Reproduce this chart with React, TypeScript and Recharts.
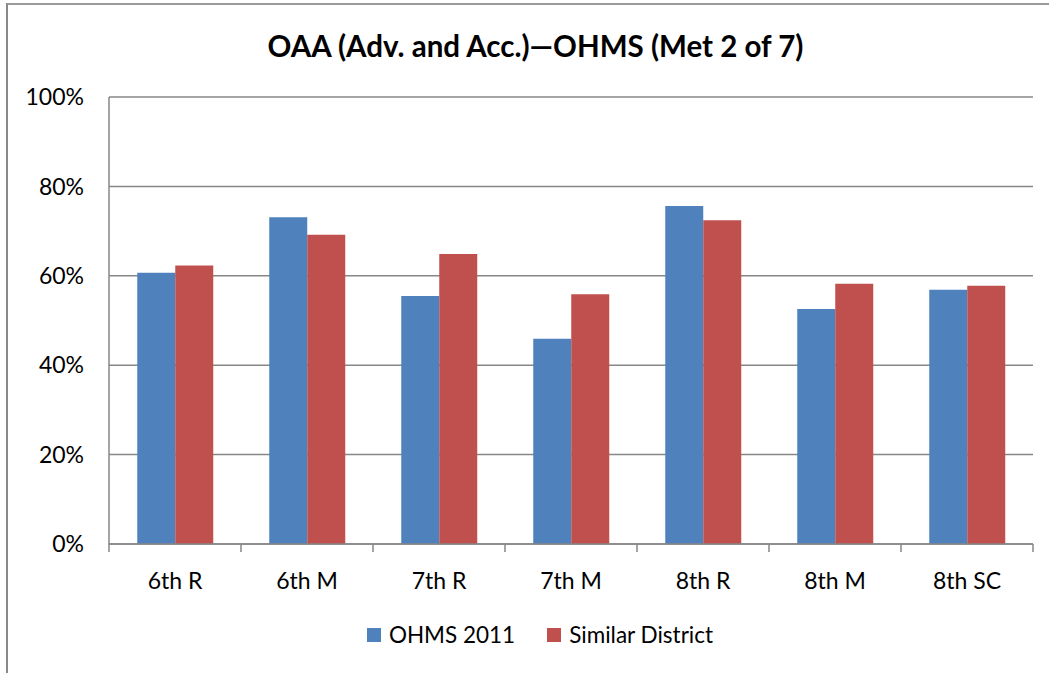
import { BarChart, Bar, XAxis, YAxis, CartesianGrid, Legend } from "recharts";

const categories = ["6th R", "6th M", "7th R", "7th M", "8th R", "8th M", "8th SC"];
const ohms2011 = [60.7, 73.1, 55.5, 45.9, 75.6, 52.6, 56.9];
const similarDistrict = [62.3, 69.2, 64.9, 55.9, 72.4, 58.2, 57.8];
const yTicks = [0, 20, 40, 60, 80, 100];

const data = categories.map((name, i) => ({
  name,
  ohms: ohms2011[i],
  similar: similarDistrict[i],
}));

const FONT = "Lato, 'Open Sans', sans-serif";
const AXIS_GRAY = "#878787";

// category ticks sit on the band edges, labels in the middle
const CategoryTick = (props: any) => {
  const { x, y, payload, index, visibleTicksCount } = props;
  const half = payload?.offset ?? 66;
  const last = index === (visibleTicksCount ?? categories.length) - 1;
  return (
    <g>
      <line x1={x - half} x2={x - half} y1={y} y2={y + 8} stroke={AXIS_GRAY} strokeWidth={1.5} />
      {last && (
        <line x1={x + half} x2={x + half} y1={y} y2={y + 8} stroke={AXIS_GRAY} strokeWidth={1.5} />
      )}
      <text x={x} y={y + 36} textAnchor="middle" dominantBaseline="central" fill="#000" fontSize={23} fontFamily={FONT}>
        {payload.value}
      </text>
    </g>
  );
};

const LegendContent = (props: any) => {
  const items = props.payload || [];
  return (
    <div style={{ display: "flex", justifyContent: "center", gap: 32, fontFamily: FONT, fontSize: 22.5 }}>
      {items.map((item: any) => (
        <div key={item.value} style={{ display: "flex", alignItems: "center" }}>
          <span style={{ width: 14, height: 14, background: item.color, marginRight: 8, display: "inline-block" }} />
          <span style={{ color: "#000" }}>{item.value}</span>
        </div>
      ))}
    </div>
  );
};

export default function App() {
  return (
    <div
      style={{
        position: "fixed",
        top: 0,
        left: 0,
        width: 1049,
        height: 673,
        background: "#fff",
        overflow: "hidden",
        fontFamily: FONT,
      }}
    >
      <div
        style={{
          position: "absolute",
          left: 6,
          top: 3,
          width: 1200,
          height: 800,
          borderTop: "2px solid #9a9a9a",
          borderLeft: "2px solid #888",
        }}
      />
      <div
        style={{
          position: "absolute",
          top: 28,
          left: 0,
          width: 1071,
          textAlign: "center",
          fontWeight: 700,
          fontSize: 29.5,
          color: "#000",
        }}
      >
        OAA (Adv. and Acc.)—OHMS (Met 2 of 7)
      </div>
      <div style={{ position: "absolute", top: 0, left: 0 }}>
        <BarChart
          width={1049}
          height={673}
          data={data}
          margin={{ top: 97, right: 16, bottom: 69, left: 0 }}
          barCategoryGap="21.4%"
          barGap={0}
        >
          <CartesianGrid vertical={false} stroke={AXIS_GRAY} strokeWidth={1.5} />
          <XAxis
            dataKey="name"
            height={60}
            tickLine={false}
            tickSize={0}
            tickMargin={0}
            axisLine={{ stroke: AXIS_GRAY, strokeWidth: 1.5 }}
            tick={<CategoryTick />}
            interval={0}
          />
          <YAxis
            width={109}
            domain={[0, 100]}
            ticks={yTicks}
            tickFormatter={(v: number) => `${v}%`}
            tickLine={false}
            tickSize={0}
            tickMargin={25}
            axisLine={{ stroke: AXIS_GRAY, strokeWidth: 1.5 }}
            tick={{ fill: "#000", fontSize: 23, fontFamily: FONT }}
          />
          <Legend
            verticalAlign="middle"
            layout="horizontal"
            content={<LegendContent />}
            wrapperStyle={{ top: 621, left: 31, width: 1018 }}
          />
          <Bar dataKey="ohms" name="OHMS 2011" fill="#4F81BD" isAnimationActive={false} />
          <Bar dataKey="similar" name="Similar District" fill="#C0504D" isAnimationActive={false} />
        </BarChart>
      </div>
    </div>
  );
}
